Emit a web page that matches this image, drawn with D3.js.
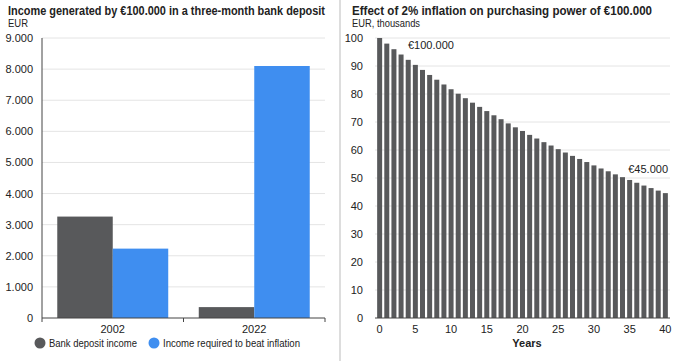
<!DOCTYPE html>
<html lang="en">
<head>
<meta charset="utf-8">
<title>Bank deposit income and inflation</title>
<script src="https://cdnjs.cloudflare.com/ajax/libs/d3/7.0.0/d3.min.js"></script>
<style type="text/css">
  body { margin: 0; background: #fff; }
  text { font-family: "Liberation Sans", Arial, sans-serif; fill: #222; }
</style>
</head>
<body>
<script type="text/javascript">

// left chart data
const categories = ["2002", "2022"];
const seriesNames = ["Bank deposit income", "Income required to beat inflation"];
const depositIncome = [3260, 350];
const requiredIncome = [2230, 8100];
const leftTicks = [0, 1000, 2000, 3000, 4000, 5000, 6000, 7000, 8000, 9000];

// right chart data (EUR thousands, years 0..40)
const years = d3.range(0, 41);
const purchasingPower = [100, 98, 96, 94.1, 92.2, 90.4, 88.6, 86.8, 85.1, 83.4,
  81.7, 80.1, 78.5, 76.9, 75.4, 73.9, 72.4, 71.0, 69.5, 68.1,
  66.8, 65.4, 64.1, 62.8, 61.6, 60.3, 59.1, 57.9, 56.8, 55.7,
  54.5, 53.4, 52.4, 51.3, 50.3, 49.3, 48.3, 47.3, 46.4, 45.5, 44.6];
const rightTicks = [0, 10, 20, 30, 40, 50, 60, 70, 80, 90, 100];
const yearTicks = [0, 5, 10, 15, 20, 25, 30, 35, 40];

var w = 682, h = 361;
var dark = "#58595b", blue = "#3f8ef0";
var fs = "11px";
var fmt = d3.format(",");
function dots(v) { return fmt(v).replace(/,/g, "."); }

var svg = d3.select("body").append("svg")
  .attr("width", w).attr("height", h);

// separator
svg.append("line")
  .attr("x1", 340).attr("x2", 340).attr("y1", 0).attr("y2", h)
  .attr("stroke", "#bbb").attr("stroke-width", 1);

// ---------- left chart ----------
var L = svg.append("g");
L.append("text").attr("x", 8).attr("y", 15)
  .attr("font-size", "12.5px").attr("font-weight", "bold")
  .attr("textLength", 317).attr("lengthAdjust", "spacingAndGlyphs")
  .text("Income generated by €100.000 in a three-month bank deposit");
L.append("text").attr("x", 8).attr("y", 27).attr("font-size", fs)
  .attr("textLength", 20).attr("lengthAdjust", "spacingAndGlyphs").text("EUR");

var yL = d3.scaleLinear().domain([0, 9000]).range([318, 38]);
var x0 = d3.scaleBand().domain(categories).range([42, 325]);
var x1 = d3.scaleBand().domain(seriesNames).range([0, x0.bandwidth()]).paddingOuter(0.275);

L.selectAll(".grid").data(leftTicks.slice(1)).enter().append("line")
  .attr("x1", 42).attr("x2", 325)
  .attr("y1", d => yL(d)).attr("y2", d => yL(d))
  .attr("stroke", "#e4e4e4");

L.selectAll(".ytl").data(leftTicks).enter().append("text")
  .attr("x", 33).attr("y", d => yL(d) + 4)
  .attr("text-anchor", "end").attr("font-size", fs)
  .text(d => dots(d));

var rows = categories.map((c, i) => ({ cat: c, vals: [depositIncome[i], requiredIncome[i]] }));
var grp = L.selectAll(".grp").data(rows).enter().append("g")
  .attr("transform", d => "translate(" + x0(d.cat) + ",0)");
grp.selectAll("rect").data(d => d.vals.map((v, j) => ({ s: seriesNames[j], v: v, j: j })))
  .enter().append("rect")
  .attr("x", d => x1(d.s)).attr("width", x1.bandwidth())
  .attr("y", d => yL(d.v)).attr("height", d => yL(0) - yL(d.v))
  .attr("fill", d => d.j === 0 ? dark : blue);

// axes lines
L.append("line").attr("x1", 42).attr("x2", 42).attr("y1", 38).attr("y2", 318)
  .attr("stroke", "#444");
L.append("line").attr("x1", 42).attr("x2", 325).attr("y1", 318).attr("y2", 318)
  .attr("stroke", "#444");
L.selectAll(".xt").data([42, 42 + x0.step(), 325]).enter().append("line")
  .attr("x1", d => d).attr("x2", d => d).attr("y1", 318).attr("y2", 322)
  .attr("stroke", "#444");
L.selectAll(".xtl").data(categories).enter().append("text")
  .attr("x", d => x0(d) + x0.bandwidth() / 2).attr("y", 333)
  .attr("text-anchor", "middle").attr("font-size", fs).text(d => d);

// legend
var legX = [40, 154], legLen = [88, 137];
seriesNames.forEach(function(s, i) {
  L.append("circle").attr("cx", legX[i]).attr("cy", 343).attr("r", 5.5)
    .attr("fill", i === 0 ? dark : blue);
  L.append("text").attr("x", legX[i] + 9).attr("y", 347).attr("font-size", fs)
    .attr("textLength", legLen[i]).attr("lengthAdjust", "spacingAndGlyphs").text(s);
});

// ---------- right chart ----------
var R = svg.append("g");
R.append("text").attr("x", 352).attr("y", 15)
  .attr("font-size", "12.5px").attr("font-weight", "bold")
  .attr("textLength", 300).attr("lengthAdjust", "spacingAndGlyphs")
  .text("Effect of 2% inflation on purchasing power of €100.000");
R.append("text").attr("x", 352).attr("y", 27).attr("font-size", fs)
  .attr("textLength", 68).attr("lengthAdjust", "spacingAndGlyphs").text("EUR, thousands");

var yR = d3.scaleLinear().domain([0, 100]).range([318, 38]);
var xR = d3.scaleBand().domain(years).range([375, 670]).padding(0.3);

R.selectAll(".grid").data(rightTicks.slice(1)).enter().append("line")
  .attr("x1", 375).attr("x2", 670)
  .attr("y1", d => yR(d)).attr("y2", d => yR(d))
  .attr("stroke", "#e4e4e4");

R.selectAll(".ytl").data(rightTicks).enter().append("text")
  .attr("x", 363).attr("y", d => yR(d) + 4)
  .attr("text-anchor", "end").attr("font-size", fs).text(d => d);

R.selectAll("rect").data(purchasingPower).enter().append("rect")
  .attr("x", (d, i) => xR(years[i])).attr("width", xR.bandwidth())
  .attr("y", d => yR(d)).attr("height", d => yR(0) - yR(d))
  .attr("fill", dark);

R.append("line").attr("x1", 375).attr("x2", 670).attr("y1", 318).attr("y2", 318)
  .attr("stroke", "#444");

R.selectAll(".xtl").data(yearTicks).enter().append("text")
  .attr("x", d => xR(d) + xR.bandwidth() / 2).attr("y", 333)
  .attr("text-anchor", "middle").attr("font-size", fs).text(d => d);

R.append("text").attr("x", 527).attr("y", 347).attr("text-anchor", "middle")
  .attr("font-size", fs).attr("font-weight", "bold").text("Years");

R.append("text").attr("x", 408).attr("y", 49).attr("font-size", fs)
  .text("€" + dots(purchasingPower[0] * 1000));
R.append("text").attr("x", 668).attr("y", 173).attr("text-anchor", "end").attr("font-size", fs)
  .text("€45.000");

</script>
</body>
</html>
